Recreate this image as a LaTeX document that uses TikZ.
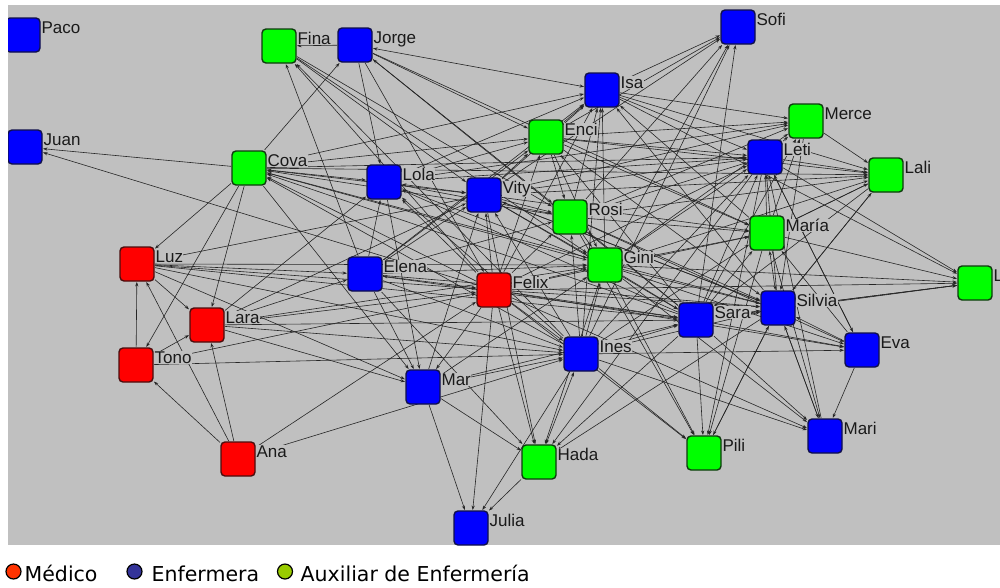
\documentclass[tikz,border=0pt]{standalone}
\usepackage{fontspec}
\setmainfont{Liberation Sans}
\newfontfamily\legfont{DejaVu Sans}
\usetikzlibrary{arrows.meta}
\definecolor{bgc}{HTML}{C0C0C0}
\definecolor{edgec}{HTML}{262626}
\definecolor{txtc}{HTML}{1A1A1A}
\definecolor{bF}{HTML}{0000FF}
\definecolor{bD}{HTML}{10104A}
\definecolor{gF}{HTML}{00FF00}
\definecolor{gD}{HTML}{0E3A0E}
\definecolor{rF}{HTML}{FF0000}
\definecolor{rD}{HTML}{4A0E0E}
\definecolor{legR}{HTML}{FF3300}
\definecolor{legB}{HTML}{333399}
\definecolor{legG}{HTML}{99CC00}
\tikzset{
  hid/.style={rectangle, minimum size=34pt, inner sep=0pt, outer sep=1pt, draw=none},
  box/.style={rectangle, rounded corners=4pt, minimum size=34pt, inner sep=0pt, line width=1.4pt},
  lab/.style={font=\fontsize{17}{19}\selectfont, text=txtc, fill=bgc, inner sep=0.4pt, anchor=base west},
  ed/.style={draw=edgec, line width=0.6pt, -{Stealth[length=4.5pt,width=3.2pt]}},
  edd/.style={draw=edgec, line width=0.6pt, {Stealth[length=4.5pt,width=3.2pt]}-{Stealth[length=4.5pt,width=3.2pt]}},
  legdot/.style={circle, minimum size=15pt, inner sep=0pt, line width=1.2pt, draw=black},
  legtxt/.style={font=\legfont\fontsize{20.5}{22}\selectfont, text=black, anchor=base west, inner sep=0pt}
}
\begin{document}
\begin{tikzpicture}[x=1pt,y=-1pt]
\useasboundingbox (0,0) rectangle (1000,587);
\fill[bgc] (8,5) rectangle (1000,545);
% hidden anchors for connectors
\foreach \n/\x/\y in {Paco/23/35, Juan/25/147, Fina/279/46, Jorge/355/45, Sofi/738/27, Isa/602/90, Merce/806/121, Enci/546/137, Cova/249/168, Leti/765/157, Lali/886/175, Lola/384/182, Vity/484/195, Rosi/570/217, Maria/767/233, Luz/137/264, Gini/605/265, Elena/365/274, Felix/494/290, Lx/975/283, Sara/696/320, Silvia/778/308, Lara/207/325, Eva/862/350, Ines/581/354, Tono/136/365, Mar/423/387, Mari/825/436, Pili/704/453, Ana/238/459, Hada/539/462, Julia/471/528}
  \node[hid] (\n) at (\x,\y) {};
% connectors
\foreach \a/\b in {Cova/Juan, Felix/Juan, Jorge/Fina, Elena/Fina, Cova/Jorge, Fina/Vity, Fina/Rosi, Fina/Gini,
  Jorge/Enci, Jorge/Rosi, Jorge/Lola, Jorge/Felix, Jorge/Maria, Sara/Jorge,
  Cova/Isa, Cova/Enci, Cova/Vity, Cova/Leti, Cova/Lali, Cova/Luz, Cova/Lara, Cova/Tono, Cova/Mar, Cova/Gini,
  Felix/Cova, Sara/Cova, Silvia/Cova, Rosi/Cova,
  Isa/Sofi, Enci/Sofi, Rosi/Sofi, Gini/Sofi, Vity/Sofi, Ines/Sofi, Sara/Sofi,
  Isa/Merce, Isa/Leti, Isa/Lali, Vity/Isa, Rosi/Isa, Gini/Isa, Felix/Isa, Lola/Isa, Elena/Isa, Maria/Isa, Silvia/Isa, Enci/Isa,
  Lola/Enci, Vity/Enci, Elena/Enci, Enci/Merce, Enci/Leti, Enci/Lali, Enci/Rosi, Enci/Gini, Enci/Maria, Enci/Silvia, Felix/Enci, Sara/Enci,
  Lola/Merce, Lola/Leti, Lola/Rosi, Lola/Gini, Lola/Mar, Felix/Lola, Elena/Lola, Lara/Lola,
  Vity/Merce, Vity/Leti, Vity/Lali, Vity/Rosi, Vity/Gini, Vity/Maria, Vity/Sara, Vity/Silvia,
  Felix/Vity, Elena/Vity, Lara/Vity, Luz/Vity, Ines/Vity, Mar/Vity,
  Rosi/Merce, Rosi/Leti, Rosi/Lali, Rosi/Gini, Rosi/Maria, Rosi/Silvia, Rosi/Eva,
  Felix/Rosi, Elena/Rosi, Ines/Rosi, Sara/Rosi,
  Gini/Merce, Gini/Leti, Gini/Lali, Gini/Maria, Gini/Silvia, Gini/Sara, Gini/Lx, Gini/Eva, Gini/Mari, Gini/Pili,
  Felix/Gini, Elena/Gini, Ines/Gini, Luz/Gini, Lara/Gini, Mar/Gini,
  Leti/Merce, Leti/Lali, Maria/Leti, Silvia/Leti, Sara/Leti, Eva/Leti, Felix/Leti, Ines/Leti, Mari/Leti,
  Merce/Lali, Maria/Lali, Silvia/Lali, Sara/Merce, Maria/Merce,
  Maria/Lx, Sara/Maria, Felix/Maria, Ines/Maria, Eva/Maria, Lali/Maria,
  Leti/Lx, Silvia/Lx, Sara/Lx, Felix/Lx, Isa/Lx,
  Eva/Silvia, Ines/Silvia, Felix/Silvia, Mari/Silvia, Elena/Silvia,
  Felix/Sara, Ines/Sara, Elena/Sara, Luz/Sara, Mar/Sara,
  Sara/Eva, Ines/Eva, Felix/Eva, Leti/Eva,
  Sara/Mari, Silvia/Mari, Ines/Mari, Felix/Mari, Maria/Mari, Eva/Mari,
  Sara/Pili, Silvia/Pili, Ines/Pili, Felix/Pili, Rosi/Pili, Maria/Pili, Pili/Silvia, Leti/Pili,
  Felix/Hada, Mar/Hada, Elena/Hada, Vity/Hada, Gini/Hada, Sara/Hada, Silvia/Hada, Leti/Hada,
  Hada/Julia, Mar/Julia, Felix/Julia, Ines/Julia,
  Elena/Mar, Felix/Mar, Luz/Mar, Lara/Mar,
  Ana/Ines, Ana/Felix, Ana/Luz, Ana/Lara, Ana/Tono,
  Tono/Luz, Tono/Lara, Luz/Lara, Tono/Ines, Tono/Felix,
  Luz/Felix, Luz/Elena, Luz/Ines, Lara/Felix, Lara/Elena, Lara/Ines, Lara/Sara,
  Elena/Ines, Felix/Ines, Felix/Fina, Ines/Fina, Ines/Lola, Sara/Lola, Silvia/Vity,
  Ines/Cova, Ines/Isa, Lali/Silvia, Lali/Sara, Merce/Silvia}
  \draw[ed] (\a) -- (\b);
\foreach \a/\b in {Jorge/Isa, Cova/Lola, Lola/Vity, Silvia/Maria, Sara/Silvia, Ines/Hada, Ines/Mar, Elena/Felix, Silvia/Lx}
  \draw[edd] (\a) -- (\b);
% visible boxes
\begin{scope}
\clip (8,5) rectangle (1000,545);
\foreach \n/\x/\y in {Paco/23/35, Juan/25/147, Jorge/355/45, Sofi/738/27, Isa/602/90, Leti/765/157, Lola/384/182, Vity/484/195, Elena/365/274, Sara/696/320, Silvia/778/308, Eva/862/350, Ines/581/354, Mar/423/387, Mari/825/436, Julia/471/528}
  \node[box, fill=bF, draw=bD] (\n-box) at (\x,\y) {};
\foreach \n/\x/\y in {Fina/279/46, Enci/546/137, Cova/249/168, Merce/806/121, Lali/886/175, Rosi/570/217, Maria/767/233, Gini/605/265, Lx/975/283, Pili/704/453, Hada/539/462}
  \node[box, fill=gF, draw=gD] (\n-box) at (\x,\y) {};
\foreach \n/\x/\y in {Luz/137/264, Lara/207/325, Tono/136/365, Felix/494/290, Ana/238/459}
  \node[box, fill=rF, draw=rD] (\n-box) at (\x,\y) {};
\end{scope}
% labels
\foreach \n/\x/\y/\t in {Paco/23/35/Paco, Juan/25/147/Juan, Fina/279/46/Fina, Jorge/355/45/Jorge, Sofi/738/27/Sofi, Isa/602/90/Isa, Merce/806/121/Merce, Enci/546/137/Enci, Cova/249/168/Cova, Leti/765/157/Leti, Lali/886/175/Lali, Lola/384/182/Lola, Vity/484/195/Vity, Rosi/570/217/Rosi, Maria/767/233/María, Luz/137/264/Luz, Gini/605/265/Gini, Elena/365/274/Elena, Felix/494/290/Felix, Lx/975/283/L, Sara/696/320/Sara, Silvia/778/308/Silvia, Lara/207/325/Lara, Eva/862/350/Eva, Ines/581/354/Ines, Tono/136/365/Tono, Mar/423/387/Mar, Mari/825/436/Mari, Pili/704/453/Pili, Ana/238/459/Ana, Hada/539/462/Hada, Julia/471/528/Julia}
  \node[lab] (\n-lab) at (\x+18,\y-1.5) {\t};
% legend
\node[legdot, fill=legR] (legM) at (13.5,571.5) {};
\node[legtxt] (legMt) at (24.5,581.5) {Médico};
\node[legdot, fill=legB] (legE) at (134.5,571.5) {};
\node[legtxt] (legEt) at (151.5,581.5) {Enfermera};
\node[legdot, fill=legG] (legA) at (285,571.5) {};
\node[legtxt] (legAt) at (300.5,581.5) {Auxiliar de Enfermería};
\end{tikzpicture}
\end{document}
